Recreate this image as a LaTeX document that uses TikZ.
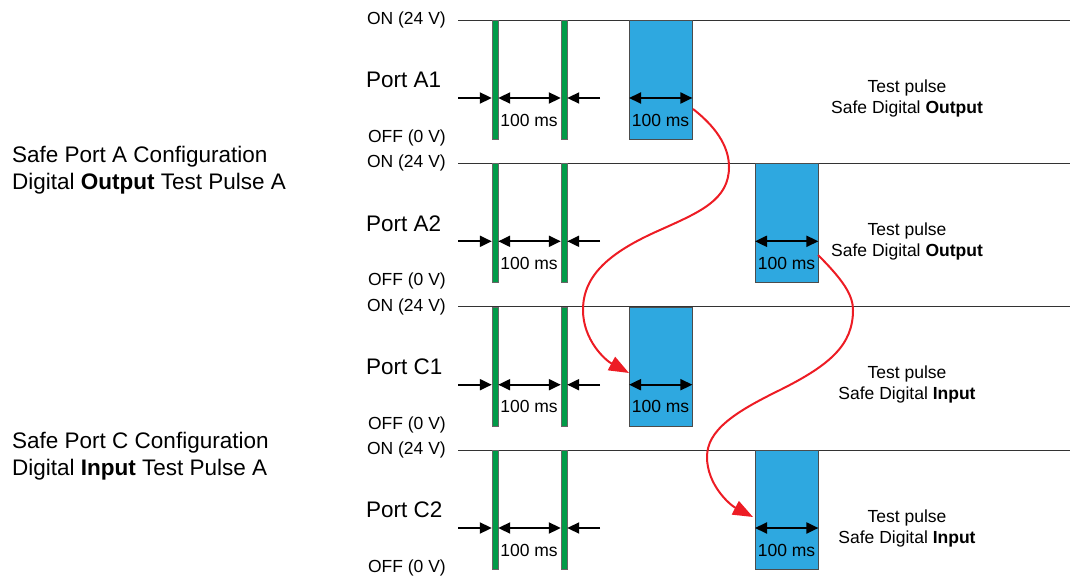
\documentclass[tikz,border=0pt]{standalone}
\usepackage{fontspec}
\setmainfont{Liberation Sans}
\usetikzlibrary{arrows.meta, positioning}
\definecolor{barGreen}{RGB}{0,155,72}
\definecolor{pulseBlue}{RGB}{46,168,224}
\definecolor{curveRed}{RGB}{237,28,36}

\begin{document}
\begin{tikzpicture}[x=1pt, y=-1pt, every node/.style={font=\fontsize{17.5}{21}\selectfont, inner sep=0pt}]
  \tikzset{bar/.style={rectangle, draw=black!60, fill=barGreen, minimum width=6pt, minimum height=119pt, anchor=north},
           pulse/.style={rectangle, draw=black!70, fill=pulseBlue, minimum width=63pt, minimum height=119pt, anchor=north west},
           dim/.style={line width=2pt, -{Triangle[length=12pt,width=11pt]}},
           dimboth/.style={line width=2pt, {Triangle[length=12pt,width=11pt]}-{Triangle[length=12pt,width=11pt]}},
           big/.style={font=\fontsize{22.5}{27}\selectfont},
           link/.style={draw=curveRed, line width=2pt, -{Triangle[length=20pt,width=15pt]}}}
  \useasboundingbox (0,0) rectangle (1079,577);

  % four port rows
  \foreach \r/\y/\px/\kind in {A1/20/629/Output, A2/163.3/755/Output, C1/306.7/629/Input, C2/450/755/Input} {
    \draw[black!80, line width=0.9pt] (458,\y) -- (1070,\y);
    \node[anchor=east] (on\r) at (446,\y) {ON (24 V)};
    \node[anchor=east] (off\r) at (446,\y+118) {OFF (0 V)};
    \node[big, anchor=west] (port\r) at (366,\y+60) {Port \r};
    \node[bar] (ga\r) at (495,\y) {};
    \node[bar] (gb\r) at (564,\y) {};
    \node[pulse] (p\r) at (\px,\y) {};
    \coordinate (in\r) at (458,\y+78);
    \coordinate (out\r) at (600,\y+78);
    \draw[dim] (in\r) -- (in\r -| ga\r.west);
    \draw[dimboth] (ga\r.east |- in\r) -- (gb\r.west |- in\r);
    \draw[dim] (out\r) -- (out\r -| gb\r.east);
    \draw[dimboth] (p\r.west |- in\r) -- (p\r.east |- in\r);
    \node (tg\r) at (529,\y+100) {100 ms};
    \node (tp\r) at (\px+31.5,\y+100) {100 ms};
    \node[align=center] (lab\r) at (907,\y+78) {Test pulse\\Safe Digital \textbf{\kind}};
  }

  \node[big, anchor=west, align=left] (cfgA) at (12,170.5) {Safe Port A Configuration\\Digital \textbf{Output} Test Pulse A};
  \node[big, anchor=west, align=left] (cfgC) at (12,456.5) {Safe Port C Configuration\\Digital \textbf{Input} Test Pulse A};

  % red links
  \coordinate (sA) at (693,109);
  \coordinate (eA) at (629,373);
  \coordinate (sC) at (818,255);
  \coordinate (eC) at (753,517);
  \draw[link] (sA) .. controls (720,130) and (729,150) .. (729,167)
    .. controls (729,200) and (700,212) .. (660,230)
    .. controls (610,252) and (583,275) .. (583,310)
    .. controls (583,340) and (605,360) .. (eA);
  \draw[link] (sC) .. controls (843,280) and (853,295) .. (853,310)
    .. controls (853,345) and (830,365) .. (780,390)
    .. controls (735,412) and (707,430) .. (707,457)
    .. controls (707,485) and (730,505) .. (eC);
\end{tikzpicture}
\end{document}
